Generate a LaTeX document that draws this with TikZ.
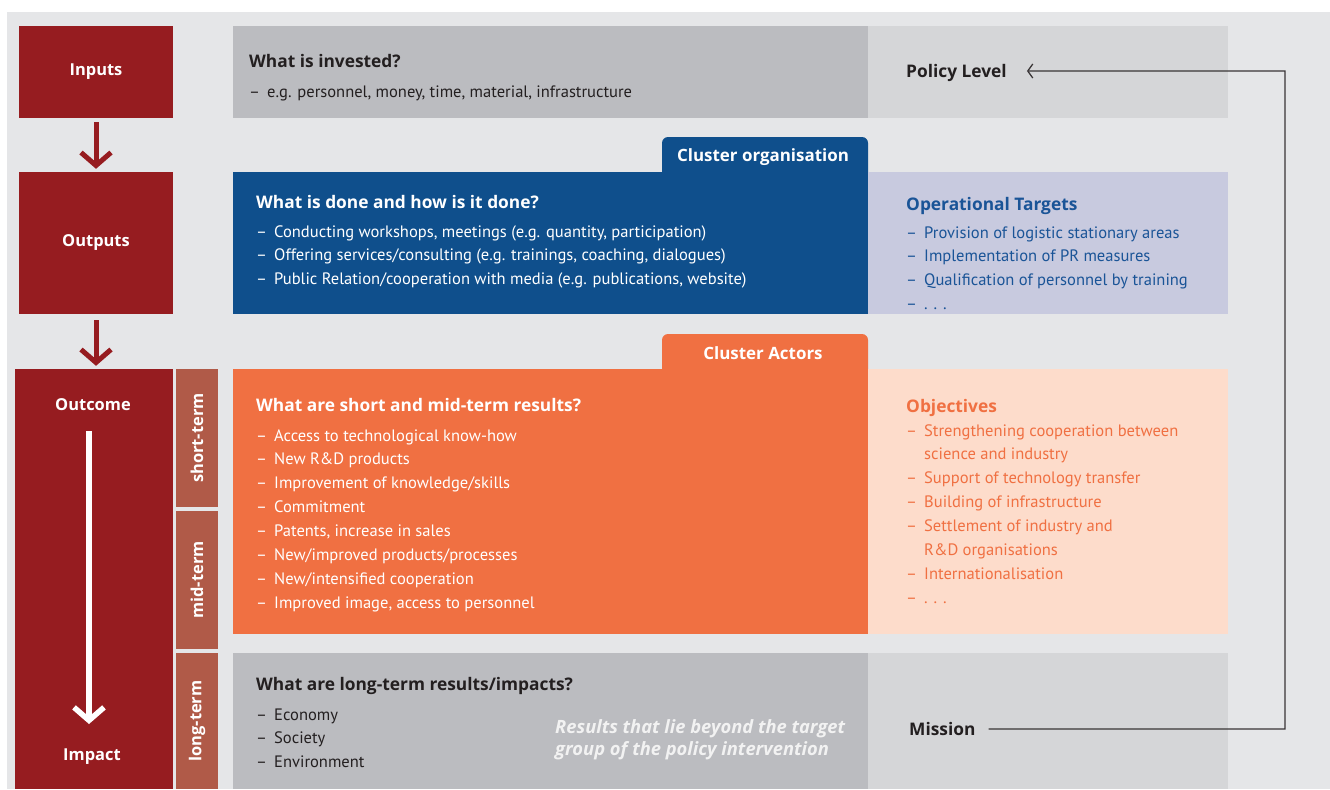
\documentclass[tikz,border=0pt]{standalone}
\usepackage{fontspec}
\setmainfont{PT Sans}
\newfontfamily\headfont{Open Sans}
\usetikzlibrary{arrows.meta,positioning}
\definecolor{pagebg}{HTML}{E5E6E8}
\definecolor{chainred}{HTML}{961C20}
\definecolor{termred}{HTML}{B05A48}
\definecolor{darkgrey}{HTML}{BBBCC0}
\definecolor{lightgrey}{HTML}{D5D6D8}
\definecolor{orgblue}{HTML}{0F4F8C}
\definecolor{lavender}{HTML}{C8CADF}
\definecolor{actorange}{HTML}{F07042}
\definecolor{peach}{HTML}{FDDCCB}
\definecolor{textblue}{HTML}{1A5497}
\definecolor{inkgrey}{HTML}{231F20}
\newcommand\rows[1]{\begin{tabular}[t]{@{}l@{}}#1\end{tabular}}
\begin{document}
\begin{tikzpicture}[x=1bp,y=-1bp,
  chainbox/.style={fill=chainred,text=white,font=\headfont\bfseries\fontsize{16.5}{20}\selectfont},
  termbox/.style={fill=termred,text=white,rotate=90,minimum height=42bp,
    font=\headfont\bfseries\fontsize{16.5}{20}\selectfont},
  headline/.style={anchor=base west,inner sep=0pt,font=\headfont\bfseries\fontsize{17.4}{20}\selectfont},
  itemlist/.style={anchor=base west,inner sep=0pt,font=\fontsize{16.6}{24}\selectfont},
  tablabel/.style={text=white,font=\headfont\bfseries\fontsize{17}{20}\selectfont},
  chainarrow/.style={line width=5bp,-{Straight Barb[length=13bp,width=30bp]}}]
% frame and coloured rows
\useasboundingbox (0,0) rectangle (1330,789);
\fill[white] (0,0) rectangle (1330,789);
\fill[pagebg] (7,12) rectangle (1330,789);
\def\dash{\makebox[18bp][l]{--}}
\fill[darkgrey] (233,26) rectangle (868,118);
\fill[lightgrey] (868,26) rectangle (1228,118);
\fill[orgblue,rounded corners=6bp] (662,137) rectangle (868,190);
\fill[orgblue] (233,172) rectangle (868,314);
\fill[lavender] (868,172) rectangle (1228,314);
\fill[actorange,rounded corners=6bp] (662,334) rectangle (868,390);
\fill[actorange] (233,369) rectangle (868,634);
\fill[peach] (868,369) rectangle (1228,634);
\fill[darkgrey] (233,653) rectangle (868,789);
\fill[lightgrey] (868,653) rectangle (1228,789);
% left chain
\node[chainbox,minimum width=154bp,minimum height=92bp] (inputs) at (96,72) {Inputs};
\node[chainbox,minimum width=154bp,minimum height=142bp] (outputs) at (96,243) {Outputs};
\node[fill=chainred,minimum width=158bp,minimum height=420bp] (outcome) at (94,579) {};
\node[chainbox,fill=none] (outlabel) at (93,405) {Outcome};
\node[chainbox,fill=none] (implabel) at (92,757) {Impact};
\draw[chainarrow,chainred] ([yshift=-4bp]inputs.south) -- ([yshift=3bp]outputs.north);
\draw[chainarrow,chainred] ([yshift=-6bp]outputs.south) -- ([yshift=3bp]outputs.south |- outcome.north);
\coordinate (flowtop) at (89,431);
\coordinate (flowend) at (89,724);
\draw[chainarrow,white,line width=5.5bp] (flowtop) -- (flowend);
\node[termbox,minimum width=138bp] (short) at (197,438) {short-term};
\node[termbox,minimum width=138bp] (mid) at (197,580) {mid-term};
\node[termbox,minimum width=136bp] (long) at (197,721) {long-term};
% tabs
\node[tablabel] (orgtab) at (763,157) {Cluster organisation};
\node[tablabel] (acttab) at (763,353) {Cluster Actors};
% inputs row
\node[headline,text=inkgrey] (invq) at (249,67) {What is invested?};
\node[itemlist,text=inkgrey] (invl) at (249,97)
  {\rows{\dash e.g. personnel, money, time, material, infrastructure}};
\node[headline,text=inkgrey] (policy) at (906,77) {Policy Level};
% outputs row
\node[headline,text=white] (doneq) at (256,208) {What is done and how is it done?};
\node[itemlist,text=white] (donel) at (256,237)
  {\rows{\dash Conducting workshops, meetings (e.g. quantity, participation)\\
   \dash Offering services/consulting (e.g. trainings, coaching, dialogues)\\
   \dash Public Relation/cooperation with media (e.g. publications, website)}};
\node[headline,text=textblue] (optq) at (906,210) {Operational Targets};
\node[itemlist,text=textblue] (optl) at (906,238)
  {\rows{\dash Provision of logistic stationary areas\\
   \dash Implementation of PR measures\\
   \dash Qualification of personnel by training\\
   \dash . . .}};
% outcome rows
\node[headline,text=white] (resq) at (256,411) {What are short and mid-term results?};
\node[itemlist,text=white] (resl) at (256,441)
  {\rows{\dash Access to technological know-how\\
   \dash New R\&D products\\
   \dash Improvement of knowledge/skills\\
   \dash Commitment\\
   \dash Patents, increase in sales\\
   \dash New/improved products/processes\\
   \dash New/intensified cooperation\\
   \dash Improved image, access to personnel}};
\node[headline,text=actorange] (objq) at (906,412) {Objectives};
\node[itemlist,text=actorange] (objl) at (906,436)
  {\rows{\dash Strengthening cooperation between\\
   \hspace*{18bp}science and industry\\
   \dash Support of technology transfer\\
   \dash Building of infrastructure\\
   \dash Settlement of industry and\\
   \hspace*{18bp}R\&D organisations\\
   \dash Internationalisation\\
   \dash . . .}};
\node[headline,text=inkgrey] (longq) at (256,690) {What are long-term results/impacts?};
\node[itemlist,text=inkgrey] (longl) at (256,720)
  {\rows{\dash Economy\\
   \dash Society\\
   \dash Environment}};
\node[itemlist,text=white!95!black,font=\headfont\bfseries\itshape\fontsize{18.4}{23}\selectfont] (beyond) at (555,733)
  {\rows{Results that lie beyond the target\\group of the policy intervention}};
\node[headline,text=inkgrey] (mission) at (909,735) {Mission};
% feedback line
\coordinate (turn) at (1285,729);
\draw[line width=1.3bp,inkgrey!90,-{Straight Barb[length=5bp,width=14bp]}]
  ([xshift=13bp,yshift=6bp]mission.base east) -- (turn) |- ([xshift=20bp,yshift=6bp]policy.base east);
\end{tikzpicture}
\end{document}
